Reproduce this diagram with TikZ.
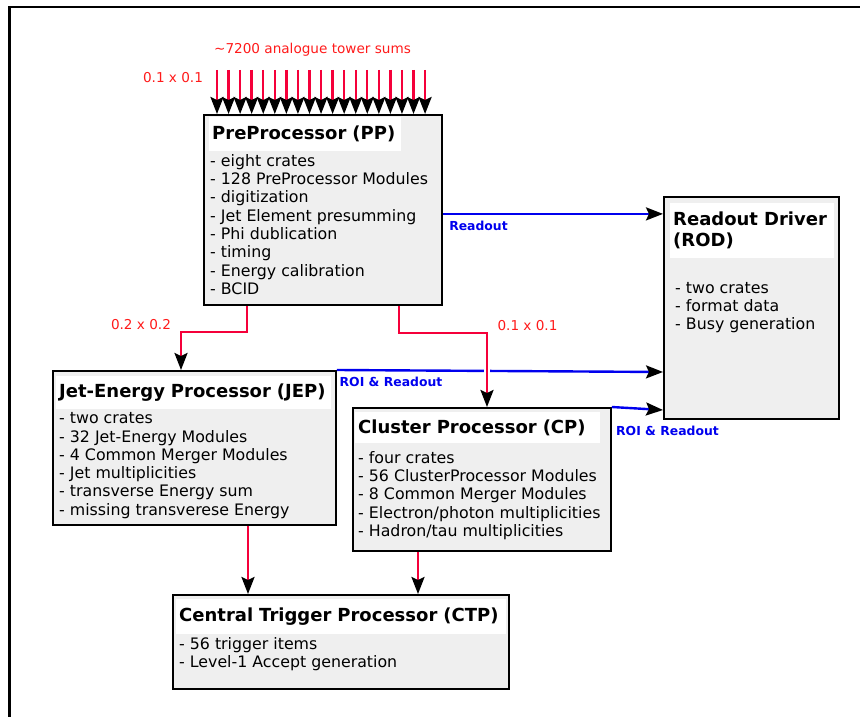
\documentclass[tikz,border=0pt]{standalone}
\usepackage{fontspec}
\setmainfont{DejaVu Sans}
\usetikzlibrary{arrows.meta,shadows}

\definecolor{boxgray}{HTML}{EFEFEF}
\definecolor{sigred}{HTML}{F5003A}
\definecolor{lblred}{HTML}{FF1A1A}
\definecolor{rdblue}{HTML}{0000EE}

\tikzset{
  box/.style={draw, line width=1.8pt, fill=boxgray, anchor=north west, inner sep=0pt,
    drop shadow={shadow xshift=1pt, shadow yshift=-1.5pt, opacity=.35}},
  ttl/.style={fill=white, anchor=north west, inner xsep=3pt, inner ysep=0pt, align=left,
    font=\fontsize{18}{21}\selectfont\bfseries},
  lst/.style={anchor=north west, inner sep=0pt, align=left,
    font=\fontsize{15.8}{18.3}\selectfont},
  tip/.style={-{Stealth[inset=3pt, length=17pt, width=13pt, color=black]}},
  sig/.style={draw=sigred, line width=2.4pt, tip},
  rd/.style={draw=rdblue, line width=2.4pt, tip},
  casing/.style={preaction={draw=white, line width=6pt, arrows=-, shorten <=3pt, shorten >=18pt}},
  redlbl/.style={text=lblred, font=\fontsize{13.6}{16}\selectfont, inner sep=0pt},
  bluelbl/.style={text=rdblue, font=\fontsize{12.4}{14}\selectfont\bfseries, inner sep=0pt},
}

\begin{document}
\begin{tikzpicture}[x=1pt, y=-1pt]
            \useasboundingbox (0,0) rectangle (860,717);
            % frame
            \draw[line width=2.5pt] (860,7) -- (9.5,7) -- (9.5,717);

            % boxes
            \node[box, minimum width=238pt, minimum height=190pt] (pp) at (203,114) {};
            \node[box, minimum width=175pt, minimum height=222pt] (rod) at (663,196) {};
            \node[box, minimum width=283pt, minimum height=154pt] (jep) at (52,370) {};
            \node[box, minimum width=258pt, minimum height=143pt] (cp) at (352,407) {};
            \node[box, minimum width=336pt, minimum height=94pt] (ctp) at (172,594) {};

            % titles
            \node[ttl, text width=186pt, minimum height=34pt] (pptitle) at ([xshift=6pt,yshift=-3pt]pp.north west) {\mbox{PreProcessor (PP)}};
            \node[ttl, text width=158pt, minimum height=55pt] (rodtitle) at ([xshift=7pt,yshift=-7pt]rod.north west) {Readout Driver\\(ROD)};
            \node[ttl, text width=269pt, minimum height=33pt] (jeptitle) at ([xshift=4pt,yshift=-6pt]jep.north west) {\mbox{Jet-Energy Processor (JEP)}};
            \node[ttl, text width=239pt, minimum height=31pt] (cptitle) at ([xshift=3pt,yshift=-5pt]cp.north west) {\mbox{Cluster Processor (CP)}};
            \node[ttl, text width=324pt, minimum height=35pt] (ctptitle) at ([xshift=4pt,yshift=-5pt]ctp.north west) {\mbox{Central Trigger Processor (CTP)}};

            % item lists
            \node[lst] (pplist) at ([xshift=7pt,yshift=-40pt]pp.north west) {- eight crates\\- 128 PreProcessor Modules\\- digitization\\- Jet Element presumming\\- Phi dublication\\- timing\\- Energy calibration\\- BCID};
            \node[lst] (rodlist) at ([xshift=12pt,yshift=-86pt]rod.north west) {- two crates\\- format data\\- Busy generation};
            \node[lst] (jeplist) at ([xshift=7pt,yshift=-42.5pt]jep.north west) {- two crates\\- 32 Jet-Energy Modules\\- 4 Common Merger Modules\\- Jet multiplicities\\- transverse Energy sum\\- missing transverese Energy};
            \node[lst] (cplist) at ([xshift=6pt,yshift=-44pt]cp.north west) {- four crates\\- 56 ClusterProcessor Modules\\- 8 Common Merger Modules\\- Electron/photon multiplicities\\- Hadron/tau multiplicities};
            \node[lst] (ctplist) at ([xshift=7pt,yshift=-43pt]ctp.north west) {- 56 trigger items\\- Level-1 Accept generation};

            % analogue inputs
            \foreach \i in {0,...,18}
              \draw[sig] ([xshift={14pt+\i*11.56pt}, yshift=44pt]pp.north west) -- ([xshift={14pt+\i*11.56pt}]pp.north west);
            \node[redlbl] (towers) at (312.5,50) {\textasciitilde7200 analogue tower sums};
            \node[redlbl] (ppgran) at (173,78) {0.1 x 0.1};

            % readout links
            \draw[rd] ([yshift=-4pt]pp.east) -- ([yshift=-4pt]pp.east -| rod.west);
            \node[bluelbl] (ppro) at (478.5,226) {Readout};
            \draw[rd] (jep.north east) -- ([yshift=-176pt]rod.north west);
            \node[bluelbl] (jepro) at (391,382) {ROI \& Readout};
            \draw[rd] (cp.north east) -- ([yshift=-214pt]rod.north west);
            \node[bluelbl] (cpro) at (667.5,431) {ROI \& Readout};

            % trigger paths
            \draw[sig] ([xshift=44pt]pp.south west) -- ++(0,26) -| ([xshift=129pt]jep.north west);
            \node[redlbl] (jepgran) at (141,325) {0.2 x 0.2};
            \draw[sig, casing] ([xshift=196pt]pp.south west) -- ++(0,27) -| ([xshift=135pt]cp.north west);
            \node[redlbl] (cpgran) at (527.5,326) {0.1 x 0.1};
            \draw[sig] ([xshift=196pt]jep.south west) -- ([xshift=196pt]jep.south west |- ctp.north);
            \draw[sig] ([xshift=66pt]cp.south west) -- ([xshift=66pt]cp.south west |- ctp.north);
\end{tikzpicture}
\end{document}
